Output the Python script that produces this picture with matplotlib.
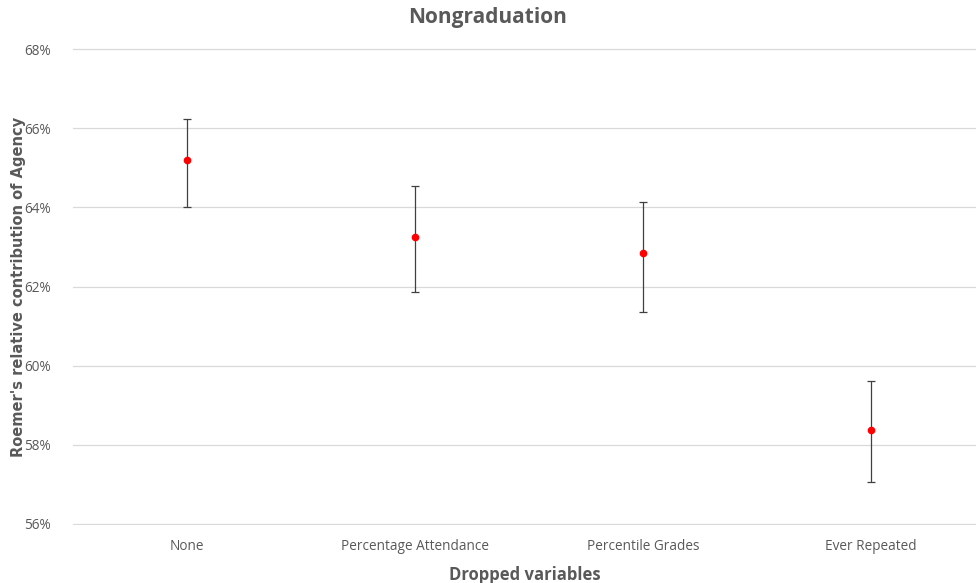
import matplotlib
matplotlib.use("Agg")
import matplotlib.pyplot as plt
from matplotlib.ticker import FuncFormatter

categories = ["None", "Percentage Attendance", "Percentile Grades", "Ever Repeated"]
values = [65.21, 63.25, 62.84, 58.37]
upper = [66.24, 64.53, 64.13, 59.62]
lower = [64.01, 61.87, 61.36, 57.06]

TEXT = "#595959"
GRID = "#d9d9d9"

plt.rcParams["font.family"] = ["Liberation Sans Narrow", "Open Sans", "DejaVu Sans"]

fig = plt.figure(figsize=(9.76, 5.83), dpi=100)
ax = fig.add_axes([73 / 976, 58 / 583, 903 / 976, 477 / 583])

x = list(range(len(categories)))
yerr = [[v - lo for v, lo in zip(values, lower)], [up - v for v, up in zip(values, upper)]]
ax.errorbar(x, values, yerr=yerr, fmt="none", ecolor="#404040", elinewidth=0.9,
            capsize=3, capthick=0.9, zorder=3)
ax.plot(x, values, "o", color="#ff0000", markersize=4.5, zorder=4)

ax.set_xlim(-0.5, 3.46)
ax.set_ylim(55.97, 68.03)
ax.set_yticks(range(56, 69, 2))
ax.yaxis.set_major_formatter(FuncFormatter(lambda v, p: f"{v:.0f}%"))
ax.set_xticks(x)
ax.set_xticklabels(categories)
ax.grid(axis="y", color=GRID, linewidth=0.9)
ax.set_axisbelow(True)
for s in ax.spines.values():
    s.set_visible(False)
ax.tick_params(length=0, colors=TEXT, labelsize=9.8, pad=10)
ax.tick_params(axis="y", pad=16)

ax.set_xlabel("Dropped variables", fontsize=12, fontweight="bold", color=TEXT, labelpad=9)
ax.set_ylabel("Roemer's relative contribution of Agency", fontsize=10.5, fontweight="bold",
              color=TEXT, family=["DejaVu Sans"])
ax.yaxis.set_label_coords(-0.052, 0.5)
fig.text(0.5, 1 - 17 / 583, "Nongraduation", ha="center", va="center", fontsize=15,
         fontweight="bold", color=TEXT)

fig.savefig("out.png", dpi=100)
